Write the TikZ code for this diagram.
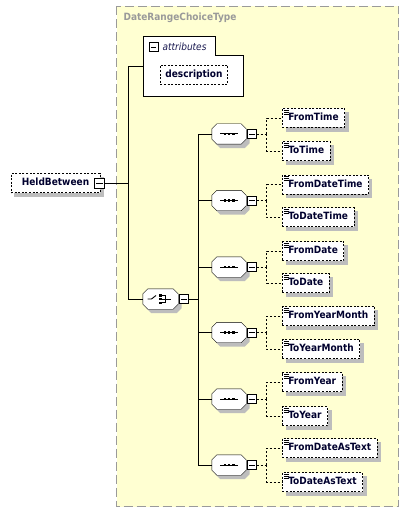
\documentclass[tikz,border=0pt]{standalone}
\usepackage{fontspec}
\setmainfont{DejaVu Sans Condensed}
\usetikzlibrary{positioning}
\definecolor{bgyellow}{HTML}{FFFFD2}
\definecolor{boxgray}{HTML}{9A9A9A}
\definecolor{shadegray}{HTML}{BDBDBD}
\definecolor{navy}{HTML}{00002E}
\pgfdeclarelayer{back}
\pgfdeclarelayer{shade}
\pgfsetlayers{back,shade,main}
\newcommand\octpath[3]{([xshift=5pt+#2,yshift=#3]#1.north west) -- ([xshift=-5pt+#2,yshift=#3]#1.north east)
    -- ([xshift=#2,yshift=-5pt+#3]#1.north east) -- ([xshift=#2,yshift=5pt+#3]#1.south east)
    -- ([xshift=-5pt+#2,yshift=#3]#1.south east) -- ([xshift=5pt+#2,yshift=#3]#1.south west)
    -- ([xshift=#2,yshift=5pt+#3]#1.south west) -- ([xshift=#2,yshift=-5pt+#3]#1.north west) -- cycle}
\begin{document}
\begin{tikzpicture}[x=1pt,y=-1pt,line width=1pt,
    every node/.style={font=\fontsize{10}{12}\selectfont\bfseries,text=navy},
    shade box/.style={append after command={\pgfextra{\begin{pgfonlayer}{shade}
        \fill[shadegray] ([xshift=3.5pt,yshift=-4pt]\tikzlastnode.north west) rectangle ([xshift=3.5pt,yshift=-4pt]\tikzlastnode.south east);
        \end{pgfonlayer}}}},
    attr node/.style={rectangle,draw,line width=0.8pt,dash pattern=on 2pt off 1.6pt,fill=white,
        minimum height=19,inner xsep=5,text height=7.5,text depth=2,shade box},
    elem node/.style={attr node,anchor=west,inner xsep=6,
        path picture={\draw[line width=0.6pt,solid]
            ([xshift=1.5pt,yshift=-1.5pt]path picture bounding box.north west) -- ++(5pt,0)
            ([xshift=1.5pt,yshift=-3.5pt]path picture bounding box.north west) -- ++(5pt,0)
            ([xshift=1.5pt,yshift=-5.5pt]path picture bounding box.north west) -- ++(5pt,0);}},
    minus node/.style={rectangle,draw,fill=white,solid,minimum size=9,inner sep=0,
        path picture={\draw ([xshift=1.8pt]path picture bounding box.west) -- ([xshift=-1.8pt]path picture bounding box.east);}},
    group node/.style={rectangle,minimum width=34,minimum height=20,inner sep=0,
        append after command={\pgfextra{
            \begin{pgfonlayer}{shade}\fill[shadegray] \octpath{\tikzlastnode}{3.5pt}{-4pt};\end{pgfonlayer}
            \draw[fill=white] \octpath{\tikzlastnode}{0pt}{0pt};}}},
    seq node/.style={group node,
        append after command={\pgfextra{
            \draw[line width=1pt] ([xshift=-9pt]\tikzlastnode.center) -- ([xshift=9pt]\tikzlastnode.center);
            \fill[black] ([xshift=-5.5pt,yshift=-1.3pt]\tikzlastnode.center) rectangle ++(2.6pt,2.6pt);
            \fill[black] ([xshift=-1.3pt,yshift=-1.3pt]\tikzlastnode.center) rectangle ++(2.6pt,2.6pt);
            \fill[black] ([xshift=2.9pt,yshift=-1.3pt]\tikzlastnode.center) rectangle ++(2.6pt,2.6pt);}}},
    choice node/.style={group node,minimum width=35,
        append after command={\pgfextra{
            \draw[line width=0.9pt] ([xshift=-13pt]\tikzlastnode.center) -- ([xshift=-9pt]\tikzlastnode.center) -- ([xshift=-4.5pt,yshift=3.5pt]\tikzlastnode.center);
            \fill[black] ([xshift=-1.5pt,yshift=2.5pt]\tikzlastnode.center) rectangle ++(2.6pt,2.4pt);
            \fill[black] ([xshift=-1.5pt,yshift=-1.2pt]\tikzlastnode.center) rectangle ++(2.6pt,2.4pt);
            \fill[black] ([xshift=-1.5pt,yshift=-4.9pt]\tikzlastnode.center) rectangle ++(2.6pt,2.4pt);
            \draw[line width=0.9pt] ([xshift=1.5pt,yshift=3.7pt]\tikzlastnode.center) -- ([xshift=5pt,yshift=3.7pt]\tikzlastnode.center)
                -- ([xshift=5pt,yshift=-3.7pt]\tikzlastnode.center) -- ([xshift=1.5pt,yshift=-3.7pt]\tikzlastnode.center)
                ([xshift=1.5pt]\tikzlastnode.center) -- ([xshift=10pt]\tikzlastnode.center);}}}]
    \useasboundingbox (0,0) rectangle (411,513);
    \begin{pgfonlayer}{back}
    \draw[boxgray,line width=1pt,dash pattern=on 9pt off 4pt,fill=bgyellow] (116.5,6.5) rectangle (398.5,506.5);
    \end{pgfonlayer}
    \node [anchor=west,text=boxgray] (type) at (120,17.5) {DateRangeChoiceType};

    \node [inner sep=0,minimum width=99,minimum height=59,anchor=north west] (attr) at (143.5,36.5) {};
    \draw [fill=white] (attr.north west) -- ++(72,0) -- ++(0,19) -| (attr.south east) -- (attr.south west) -- cycle;
    \node [minus node] (attr-m) at (153.5,47) {};
    \node [anchor=west,font=\fontsize{10}{12}\selectfont\itshape,text={rgb,255:red,25;green,25;blue,80}] (attr-t) at (159,47) {attributes};
    \node [attr node] (description) at (194,74.5) {description};

    \node [attr node,minimum width=89] (held) at (55.5,183) {HeldBetween};
    \node [minus node,minimum size=10] (held-m) at (99.5,183.5) {};
    \coordinate (trunk) at (128.5,183.5);

    \node [choice node] (choice) at (160.5,299) {};
    \node [minus node,right=1pt of choice] (choice-m) {};
    \coordinate (bus) at (198.5,299);

    \node [seq node] (seq1) at (229,134) {};
    \node [seq node] (seq2) at (229,200.5) {};
    \node [seq node] (seq3) at (229,267) {};
    \node [seq node] (seq4) at (229,332.5) {};
    \node [seq node] (seq5) at (229,399) {};
    \node [seq node] (seq6) at (229,465) {};
    \node [minus node,right=1pt of seq1] (seq1-m) {};
    \node [minus node,right=1pt of seq2] (seq2-m) {};
    \node [minus node,right=1pt of seq3] (seq3-m) {};
    \node [minus node,right=1pt of seq4] (seq4-m) {};
    \node [minus node,right=1pt of seq5] (seq5-m) {};
    \node [minus node,right=1pt of seq6] (seq6-m) {};

    \node [elem node] (FromTime) at (282,118) {FromTime};
    \node [elem node] (ToTime) at (282,151) {ToTime};
    \node [elem node] (FromDateTime) at (282,184.5) {FromDateTime};
    \node [elem node] (ToDateTime) at (282,217) {ToDateTime};
    \node [elem node] (FromDate) at (282,251) {FromDate};
    \node [elem node] (ToDate) at (282,283) {ToDate};
    \node [elem node] (FromYearMonth) at (282,316) {FromYearMonth};
    \node [elem node] (ToYearMonth) at (282,349) {ToYearMonth};
    \node [elem node] (FromYear) at (282,382) {FromYear};
    \node [elem node] (ToYear) at (282,416) {ToYear};
    \node [elem node] (FromDateAsText) at (282,448) {FromDateAsText};
    \node [elem node] (ToDateAsText) at (282,482) {ToDateAsText};

    \draw (held-m.east) -- (trunk);
    \draw (attr.west) -| (trunk) |- (choice.west);
    \draw (choice-m.east) -- (bus);
    \draw (bus) |- (seq1.west);
    \draw (bus) |- (seq2.west);
    \draw (bus) |- (seq3.west);
    \draw (bus) |- (seq4.west);
    \draw (bus) |- (seq5.west);
    \draw (bus) |- (seq6.west);
    \draw [line width=0.8pt,dash pattern=on 2pt off 2pt] (seq1-m.east) -- ++(10,0) coordinate (j1) (j1) |- (FromTime.west) (j1) |- (ToTime.west);
    \draw [line width=0.8pt,dash pattern=on 2pt off 2pt] (seq2-m.east) -- ++(10,0) coordinate (j2) (j2) |- (FromDateTime.west) (j2) |- (ToDateTime.west);
    \draw [line width=0.8pt,dash pattern=on 2pt off 2pt] (seq3-m.east) -- ++(10,0) coordinate (j3) (j3) |- (FromDate.west) (j3) |- (ToDate.west);
    \draw [line width=0.8pt,dash pattern=on 2pt off 2pt] (seq4-m.east) -- ++(10,0) coordinate (j4) (j4) |- (FromYearMonth.west) (j4) |- (ToYearMonth.west);
    \draw [line width=0.8pt,dash pattern=on 2pt off 2pt] (seq5-m.east) -- ++(10,0) coordinate (j5) (j5) |- (FromYear.west) (j5) |- (ToYear.west);
    \draw [line width=0.8pt,dash pattern=on 2pt off 2pt] (seq6-m.east) -- ++(10,0) coordinate (j6) (j6) |- (FromDateAsText.west) (j6) |- (ToDateAsText.west);
\end{tikzpicture}
\end{document}
